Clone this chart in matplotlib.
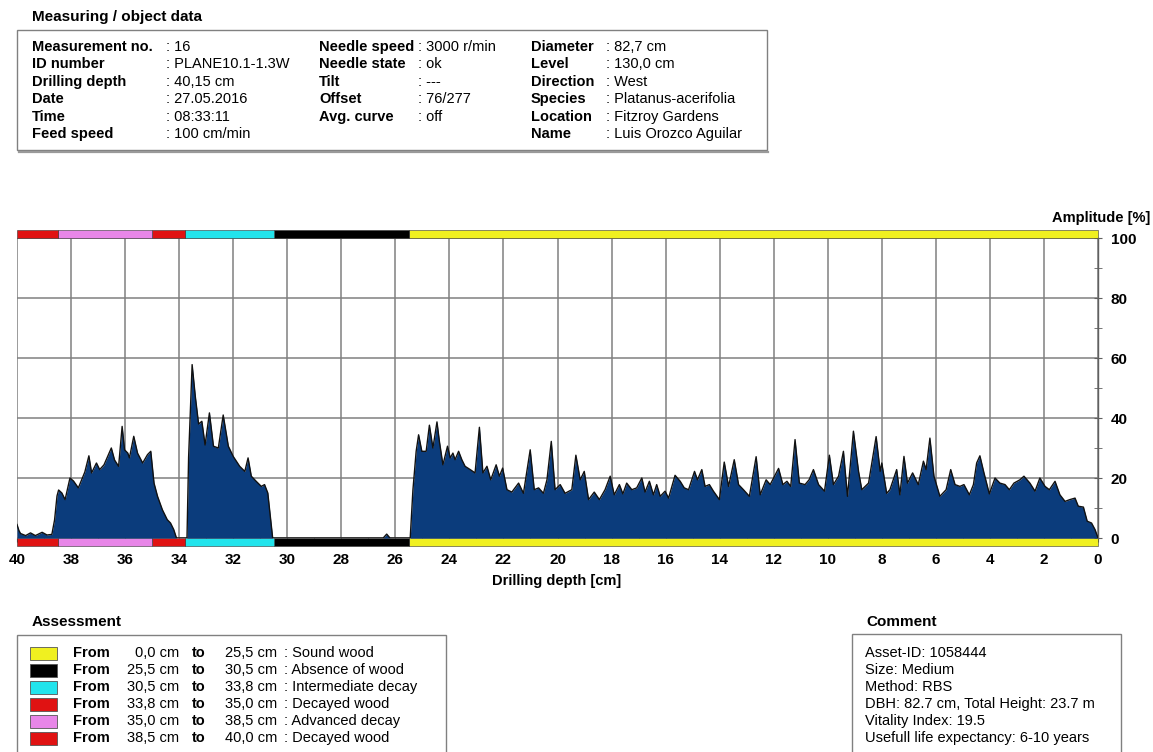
import matplotlib
matplotlib.use("Agg")
import matplotlib.pyplot as plt
from matplotlib.patches import Rectangle
from matplotlib.lines import Line2D

plt.rcParams['font.family'] = ['Liberation Sans', 'DejaVu Sans']

W, H = 1153, 752

# header data
col1_labels = ["Measurement no.", "ID number", "Drilling depth", "Date", "Time", "Feed speed"]
col1_values = ["16", "PLANE10.1-1.3W", "40,15 cm", "27.05.2016", "08:33:11", "100 cm/min"]
col2_labels = ["Needle speed", "Needle state", "Tilt", "Offset", "Avg. curve"]
col2_values = ["3000 r/min", "ok", "---", "76/277", "off"]
col3_labels = ["Diameter", "Level", "Direction", "Species", "Location", "Name"]
col3_values = ["82,7 cm", "130,0 cm", "West", "Platanus-acerifolia", "Fitzroy Gardens", "Luis Orozco Aguilar"]

# assessment zones
seg_from = [0.0, 25.5, 30.5, 33.8, 35.0, 38.5]
seg_to = [25.5, 30.5, 33.8, 35.0, 38.5, 40.0]
seg_names = ["Sound wood", "Absence of wood", "Intermediate decay",
             "Decayed wood", "Advanced decay", "Decayed wood"]
seg_colors = ["#f0f020", "#000000", "#22e4ec", "#e01212", "#e886e8", "#e01212"]

comment_lines = ["Asset-ID: 1058444", "Size: Medium", "Method: RBS",
                 "DBH: 82.7 cm, Total Height: 23.7 m", "Vitality Index: 19.5",
                 "Usefull life expectancy: 6-10 years"]

# resistance profile (depth cm, amplitude %)
depth_cm = [
    40.00, 39.93, 39.87, 39.68, 39.50, 39.32, 39.07, 38.89, 38.71, 38.61,
    38.52, 38.46, 38.34, 38.22, 38.04, 37.91, 37.73, 37.49, 37.34, 37.24,
    37.06, 36.94, 36.78, 36.51, 36.39, 36.24, 36.11, 36.02, 35.90, 35.84,
    35.68, 35.54, 35.35, 35.17, 35.05, 34.93, 34.80, 34.62, 34.44, 34.32,
    34.20, 34.10,
    33.71, 33.65, 33.52, 33.40, 33.28, 33.16, 33.04, 32.88, 32.73, 32.55,
    32.37, 32.18, 32.00, 31.76, 31.57, 31.45, 31.33, 31.15, 30.96, 30.84,
    30.72, 30.60, 30.54,
    26.45, 26.32, 26.20, 25.45,
    25.35, 25.23, 25.14, 25.02, 24.86, 24.74, 24.61, 24.46, 24.37, 24.24,
    24.07, 23.97, 23.87, 23.79, 23.66, 23.54, 23.42, 23.23, 23.05, 22.89,
    22.76, 22.61, 22.47, 22.27, 22.15, 22.03, 21.87, 21.69, 21.44, 21.26,
    21.01, 20.86, 20.70, 20.52, 20.39, 20.23, 20.09, 19.90, 19.72, 19.47,
    19.32, 19.16, 19.01, 18.85, 18.64, 18.45, 18.24, 18.05, 17.90, 17.71,
    17.58, 17.44, 17.25, 17.07, 16.88, 16.76, 16.60, 16.45, 16.33,
    16.20, 16.02, 15.89, 15.65, 15.46, 15.31, 15.15, 14.93, 14.82, 14.66,
    14.54, 14.38, 14.23, 14.01, 13.83, 13.67, 13.46, 13.30, 13.12, 12.90,
    12.65, 12.50, 12.28, 12.13, 11.82, 11.66, 11.51, 11.37, 11.21, 11.05,
    10.84, 10.69, 10.53, 10.34, 10.12, 9.94, 9.79, 9.60, 9.42, 9.27,
    9.05, 8.86, 8.74, 8.49, 8.21, 8.06, 8.00, 7.82,
    7.70, 7.45, 7.33, 7.18, 7.05, 6.86, 6.65, 6.46, 6.36, 6.22,
    6.07, 5.85, 5.62, 5.45, 5.29, 5.11, 4.96, 4.76, 4.61, 4.49,
    4.37, 4.22, 4.02, 3.81, 3.63, 3.44, 3.28, 3.11, 2.89, 2.74,
    2.52, 2.33, 2.15, 1.96, 1.80, 1.59, 1.41, 1.22, 1.04, 0.85,
    0.73, 0.54, 0.40, 0.24, 0.11, 0.00,
]
amplitude_pct = [
    4.5, 2.5, 1.5, 0.8, 1.7, 0.8, 1.9, 1.0, 1.2, 6.0,
    14.0, 16.0, 15.0, 12.8, 20.0, 19.0, 16.7, 22.0, 27.4, 21.7,
    25.0, 22.8, 24.4, 30.0, 26.0, 23.9, 37.2, 29.4, 28.3, 26.7,
    33.9, 28.3, 25.0, 27.8, 28.9, 18.3, 13.9, 9.4, 6.1, 5.0,
    2.8, 0.0,
    0.0, 27.0, 57.8, 47.0, 38.0, 38.9, 31.0, 41.7, 30.6, 30.0,
    41.0, 30.6, 27.2, 23.9, 22.2, 26.7, 20.6, 18.9, 17.2, 17.8,
    15.0, 5.0, 0.0,
    0.0, 1.3, 0.0, 0.0,
    16.0, 28.9, 34.4, 28.9, 28.9, 37.6, 30.0, 38.7, 32.2, 24.4,
    30.6, 26.7, 28.3, 26.1, 28.9, 26.1, 23.9, 22.8, 21.7, 36.9,
    21.7, 23.9, 19.4, 24.4, 20.6, 23.3, 16.1, 15.3, 18.3, 14.9,
    29.4, 16.1, 16.7, 14.9, 19.4, 32.2, 16.1, 17.8, 14.9, 16.1,
    27.6, 19.4, 22.2, 12.8, 15.3, 12.8, 16.1, 20.6, 14.4, 17.8,
    14.7, 18.3, 16.1, 16.7, 20.0, 15.3, 18.9, 14.4, 17.8,
    13.9, 15.6, 13.3, 20.9, 18.9, 16.7, 16.1, 22.2, 19.4, 22.8,
    17.2, 17.8, 15.6, 12.8, 25.3, 17.2, 26.1, 17.8, 16.1, 13.9,
    27.1, 14.4, 19.4, 17.8, 23.2, 17.8, 18.9, 17.2, 32.8, 18.3,
    17.8, 19.4, 22.8, 17.8, 15.6, 27.6, 17.8, 20.6, 28.9, 13.9,
    35.6, 22.2, 16.1, 18.3, 33.8, 22.2, 25.0, 14.9,
    16.1, 22.8, 14.4, 27.2, 18.3, 21.7, 17.8, 25.6, 22.8, 33.3,
    20.6, 13.9, 16.1, 22.8, 17.8, 17.2, 17.8, 14.4, 17.8, 25.0,
    27.4, 21.7, 14.7, 20.0, 18.3, 17.8, 16.1, 18.3, 19.4, 20.6,
    18.3, 15.6, 20.0, 17.2, 16.1, 18.9, 14.4, 12.2, 12.8, 13.3,
    10.6, 10.3, 5.6, 5.0, 2.8, 0.0,
]


def fx(px):
    return px / W


def fy(py):
    return 1 - py / H


fig = plt.figure(figsize=(W / 100, H / 100), dpi=100)

# ---- header block ----
fig.text(fx(32), fy(21), "Measuring / object data", fontsize=11, fontweight="bold", va="baseline")
fig.add_artist(Rectangle((fx(17), fy(150)), fx(750), 120 / H, transform=fig.transFigure,
                         fill=False, edgecolor="#808080", lw=1.0))
fig.add_artist(Line2D([fx(19), fx(768)], [fy(151.5), fy(151.5)], transform=fig.transFigure,
                      color="#9a9a9a", lw=1.6))

row_y = [51, 68, 86, 103, 121, 138]
cols = [(col1_labels, col1_values, 32, 166),
        (col2_labels, col2_values, 319, 418),
        (col3_labels, col3_values, 531, 606)]
for labels, values, xl, xc in cols:
    for i, (lab, val) in enumerate(zip(labels, values)):
        fig.text(fx(xl), fy(row_y[i]), lab, fontsize=10.5, fontweight="bold", va="baseline")
        fig.text(fx(xc), fy(row_y[i]), ": " + val, fontsize=10.5, va="baseline")

# ---- main chart ----
ax = fig.add_axes([fx(17), fy(538), (1098 - 17) / W, 300 / H])
ax.set_xlim(40, 0)
ax.set_ylim(0, 100)
ax.set_axisbelow(True)

ax.fill_between(depth_cm, amplitude_pct, 0, color="#0b3c7c", lw=0, zorder=2)
ax.plot(depth_cm, amplitude_pct, color="#111111", lw=1.0, zorder=3)

# zone bars above and below the plot
for x0, x1, c in zip(seg_from, seg_to, seg_colors):
    for yb in (100, -2.6):
        ax.add_patch(Rectangle((x0, yb), x1 - x0, 2.6, facecolor=c, edgecolor="#333333",
                               lw=0.4, clip_on=False, zorder=1.5))

ax.set_xticks(range(0, 41, 2))
ax.set_xticks(range(1, 40, 2), minor=True)
ax.set_yticks(range(0, 101, 20))
ax.set_yticks(range(10, 100, 20), minor=True)
ax.grid(True, which="major", color="#808080", lw=1.1)

for s in ("left", "top", "bottom"):
    ax.spines[s].set_visible(False)
ax.spines["right"].set_color("#606060")
ax.spines["right"].set_linewidth(1.0)
ax.yaxis.tick_right()
ax.tick_params(axis="y", which="both", direction="inout", length=6, color="#606060",
               labelsize=11, pad=6)
ax.tick_params(axis="x", which="both", direction="out", length=3, color="#555555",
               labelsize=11, pad=8)
for lab in ax.get_xticklabels() + ax.get_yticklabels():
    lab.set_fontweight("bold")

fig.text(fx(1150), fy(218), "Amplitude [%]", fontsize=10.5, fontweight="bold",
         ha="right", va="center")
fig.text(fx(557), fy(581), "Drilling depth [cm]", fontsize=10.5, fontweight="bold",
         ha="center", va="center")

# ---- assessment block ----
fig.text(fx(32), fy(626), "Assessment", fontsize=11, fontweight="bold", va="baseline")
fig.add_artist(Rectangle((fx(17), fy(760)), fx(429), 125 / H, transform=fig.transFigure,
                         fill=False, edgecolor="#808080", lw=1.0))
ass_y = [653, 670, 687, 704, 721, 738]
for i in range(len(seg_from)):
    yc = ass_y[i]
    yb = yc + 4
    fig.add_artist(Rectangle((fx(30), fy(yc + 6.5)), fx(27), 13 / H, transform=fig.transFigure,
                             facecolor=seg_colors[i], edgecolor="#555555", lw=0.6))
    fig.text(fx(73), fy(yb), "From", fontsize=10.5, fontweight="bold", va="baseline")
    fig.text(fx(179), fy(yb), f"{seg_from[i]:.1f} cm".replace(".", ","), fontsize=10.5,
             va="baseline", ha="right")
    fig.text(fx(192), fy(yb), "to", fontsize=10.5, fontweight="bold", va="baseline")
    fig.text(fx(277), fy(yb), f"{seg_to[i]:.1f} cm".replace(".", ","), fontsize=10.5,
             va="baseline", ha="right")
    fig.text(fx(284), fy(yb), ": " + seg_names[i], fontsize=10.5, va="baseline")

# ---- comment block ----
fig.text(fx(866), fy(626), "Comment", fontsize=11, fontweight="bold", va="baseline")
fig.add_artist(Rectangle((fx(852), fy(760)), fx(269), 126 / H, transform=fig.transFigure,
                         fill=False, edgecolor="#808080", lw=1.0))
for i, line in enumerate(comment_lines):
    fig.text(fx(865), fy(ass_y[i] + 4), line, fontsize=10.5, va="baseline")

fig.savefig("out.png", dpi=100)
